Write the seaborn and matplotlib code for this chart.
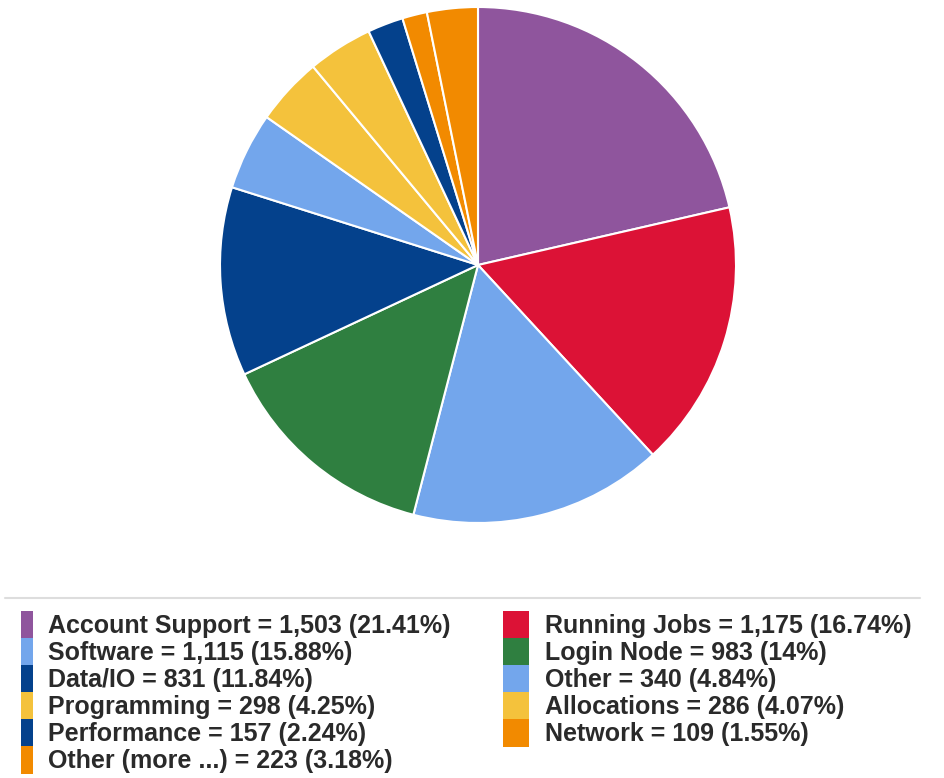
import matplotlib
matplotlib.use("Agg")
import matplotlib.pyplot as plt
from matplotlib.patches import Patch
from matplotlib.lines import Line2D
import seaborn as sns

categories = ["Account Support", "Running Jobs", "Software", "Login Node",
              "Data/IO", "Other", "Programming", "Allocations",
              "Performance", "Network", "Other (more ...)"]
counts = [1503, 1175, 1115, 983, 831, 340, 298, 286, 157, 109, 223]
percents = ["21.41%", "16.74%", "15.88%", "14%", "11.84%", "4.84%",
            "4.25%", "4.07%", "2.24%", "1.55%", "3.18%"]
colours = ["#8F559D", "#DC1236", "#73A6EC", "#2F7F40", "#04418C", "#73A6EC",
           "#F4C23C", "#F4C23C", "#04418C", "#F28A00", "#F28A00"]

sns.set_theme(style="white")
plt.rcParams['font.family'] = ['Liberation Sans', 'DejaVu Sans']

W, H = 945, 778
fig = plt.figure(figsize=(W / 100, H / 100), dpi=100)
fig.patch.set_facecolor("white")

# pie: centre (478, 265), radius ~258 px
cx, cy, r = 478, 265, 258
ax = fig.add_axes([(cx - r) / W, 1 - (cy + r) / H, 2 * r / W, 2 * r / H])
ax.pie(counts, colors=colours, startangle=90, counterclock=False,
       wedgeprops=dict(edgecolor="white", linewidth=1.5))
ax.set_xlim(-1, 1)
ax.set_ylim(-1, 1)
ax.set_aspect("equal")
ax.set_axis_off()

# separator line above the legend
fig.add_artist(Line2D([5 / W, 920 / W], [1 - 598 / H] * 2, color="#dddddd",
                      linewidth=1.5, transform=fig.transFigure))

labels = [f"{c} = {n:,} ({p})" for c, n, p in zip(categories, counts, percents)]
handles = [Patch(facecolor=col, edgecolor="none", linewidth=0) for col in colours]

fs = 18
common = dict(frameon=False, loc="upper left", borderpad=0,
              borderaxespad=0, labelspacing=-0.03, handleheight=1.33,
              prop={'weight': 'bold', 'size': fs})
left_idx = [0, 2, 4, 6, 8, 10]
right_idx = [1, 3, 5, 7, 9]
leg1 = fig.legend([handles[i] for i in left_idx], [labels[i] for i in left_idx],
                  bbox_to_anchor=(21 / W, 1 - 611 / H), handlelength=0.48,
                  handletextpad=0.6, **common)
leg2 = fig.legend([handles[i] for i in right_idx], [labels[i] for i in right_idx],
                  bbox_to_anchor=(503 / W, 1 - 611 / H), handlelength=1.04,
                  handletextpad=0.64, **common)
for leg in (leg1, leg2):
    for t in leg.get_texts():
        t.set_color("#2a2a2a")

fig.savefig("out.png", dpi=100, facecolor="white")
